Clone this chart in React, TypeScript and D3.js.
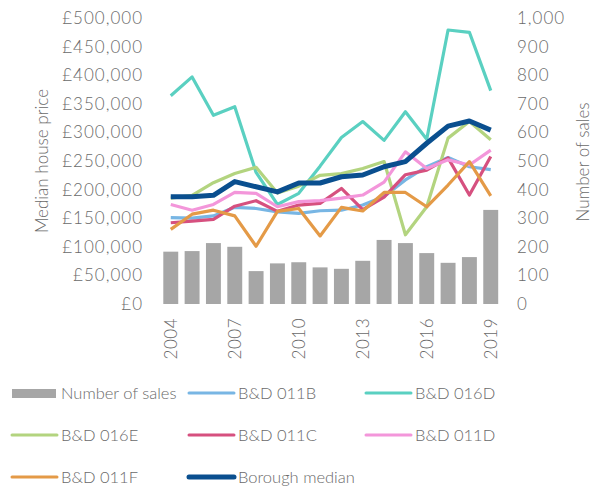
import React from "react";
import * as d3 from "d3";

const years = [2004, 2005, 2006, 2007, 2008, 2009, 2010, 2011, 2012, 2013, 2014, 2015, 2016, 2017, 2018, 2019];
const sales = [183, 185, 213, 200, 115, 142, 146, 128, 123, 151, 224, 213, 178, 144, 164, 329];
const bd011B = [151000, 150000, 154000, 169000, 167000, 161000, 158500, 163000, 164000, 173000, 188000, 217000, 240000, 256000, 240000, 235000];
const bd016D = [364000, 397000, 330000, 345000, 230000, 174000, 193500, 241000, 291000, 319000, 286000, 336000, 288000, 479000, 475000, 373000];
const bd016E = [185000, 190000, 212000, 228000, 239000, 194000, 206000, 225000, 228000, 237000, 249000, 121000, 170000, 290000, 319000, 287000];
const bd011C = [142000, 145000, 148000, 171000, 180600, 162000, 173000, 176000, 202000, 165000, 187000, 226000, 234000, 255500, 190500, 258000];
const bd011D = [174000, 164000, 174000, 195000, 193500, 170000, 179000, 180600, 185000, 190500, 213000, 266000, 237000, 252000, 243000, 269000];
const bd011F = [130500, 157000, 164000, 154000, 101000, 162000, 167000, 119000, 169000, 162600, 195000, 195000, 170000, 208000, 249000, 189000];
const borough = [187600, 187600, 190000, 214000, 205000, 196000, 211500, 211500, 222500, 225500, 240000, 249000, 281000, 311000, 320000, 304000];
const priceTicks = [0, 50000, 100000, 150000, 200000, 250000, 300000, 350000, 400000, 450000, 500000];
const salesTicks = [0, 100, 200, 300, 400, 500, 600, 700, 800, 900, 1000];
const xTickYears = [2004, 2007, 2010, 2013, 2016, 2019];

const series = [
  { name: "B&D 011B", values: bd011B, color: "#78b6e4", width: 3.2 },
  { name: "B&D 016D", values: bd016D, color: "#5ad0c1", width: 3.2 },
  { name: "B&D 016E", values: bd016E, color: "#b3d47f", width: 3.2 },
  { name: "B&D 011C", values: bd011C, color: "#d6507f", width: 3.2 },
  { name: "B&D 011D", values: bd011D, color: "#f396da", width: 3.2 },
  { name: "B&D 011F", values: bd011F, color: "#e49a47", width: 3.2 },
  { name: "Borough median", values: borough, color: "#0a4f8f", width: 5 },
];

const FONT = "Lato, 'Open Sans', sans-serif";
const TXT = "#6a6a6a";

export default function App() {
  const W = 607, H = 488;
  const x = d3.scaleBand<number>().domain(years).range([160.1, 501.4]).paddingInner(0.3).paddingOuter(0.15);
  const yP = d3.scaleLinear().domain([0, 500000]).range([304, 18]);
  const yS = d3.scaleLinear().domain([0, 1000]).range([304, 18]);
  const cx = (yr: number) => (x(yr) as number) + x.bandwidth() / 2;
  const fmt = (v: number) => "£" + d3.format(",")(v);

  const line = (vals: number[]) =>
    d3.line<number>().x((_, i) => cx(years[i])).y((v) => yP(v))(vals) as string;

  const legend = [
    { name: "Number of sales", kind: "bar", color: "#a6a6a6", col: 0, row: 0 },
    { name: "B&D 011B", kind: "line", color: series[0].color, col: 1, row: 0, w: 3 },
    { name: "B&D 016D", kind: "line", color: series[1].color, col: 2, row: 0, w: 3 },
    { name: "B&D 016E", kind: "line", color: series[2].color, col: 0, row: 1, w: 3 },
    { name: "B&D 011C", kind: "line", color: series[3].color, col: 1, row: 1, w: 3 },
    { name: "B&D 011D", kind: "line", color: series[4].color, col: 2, row: 1, w: 3 },
    { name: "B&D 011F", kind: "line", color: series[5].color, col: 0, row: 2, w: 3 },
    { name: "Borough median", kind: "line", color: series[6].color, col: 1, row: 2, w: 5 },
  ];
  const colX = [12, 189, 366];
  const rowY = [393, 435, 477];

  return (
    <svg width={W} height={H} style={{ position: "absolute", left: 0, top: 0 }} fontFamily={FONT} fontWeight={300}>
      <rect width={W} height={H} fill="#ffffff" />
      {years.map((yr, i) => (
        <rect key={yr} x={x(yr)} y={yS(sales[i])} width={x.bandwidth()} height={yS(0) - yS(sales[i])} fill="#a6a6a6" />
      ))}
      {series.map((s) => (
        <path key={s.name} d={line(s.values)} fill="none" stroke={s.color} strokeWidth={s.width} strokeLinejoin="round" />
      ))}
      {priceTicks.map((t) => (
        <text key={t} x={143} y={yP(t)} dy="0.35em" textAnchor="end" fontSize={17} letterSpacing={1} fill={TXT}>{fmt(t)}</text>
      ))}
      {salesTicks.map((t) => (
        <text key={t} x={517} y={yS(t)} dy="0.35em" textAnchor="start" fontSize={17} letterSpacing={1} fill={TXT}>{d3.format(",")(t)}</text>
      ))}
      {xTickYears.map((yr) => (
        <text key={yr} transform={`translate(${cx(yr)},318) rotate(-90)`} dy="0.35em" textAnchor="end" fontSize={17} letterSpacing={0.5} fill={TXT}>{yr}</text>
      ))}
      <text transform="translate(42,161) rotate(-90)" dy="0.35em" textAnchor="middle" fontSize={17} fill={TXT}>Median house price</text>
      <text transform="translate(583,162) rotate(-90)" dy="0.35em" textAnchor="middle" fontSize={17} fill={TXT}>Number of sales</text>
      {legend.map((l) => (
        <g key={l.name} transform={`translate(${colX[l.col]},${rowY[l.row]})`}>
          {l.kind === "bar" ? (
            <rect x={0} y={-4} width={44} height={9} fill={l.color} />
          ) : (
            <line x1={0} x2={45} y1={0} y2={0} stroke={l.color} strokeWidth={l.w} strokeLinecap="round" />
          )}
          <text x={49} y={0} dy="0.35em" fontSize={16.5} fill={TXT}>{l.name}</text>
        </g>
      ))}
    </svg>
  );
}
